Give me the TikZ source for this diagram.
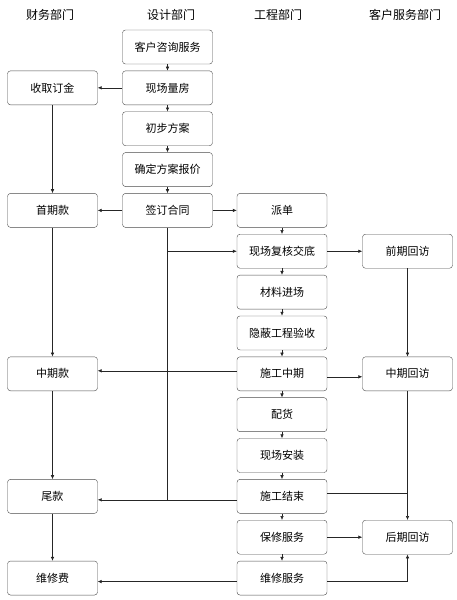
\documentclass[tikz,border=0pt]{standalone}
\usepackage{fontspec}
\setmainfont{Noto Sans CJK SC}
\usetikzlibrary{arrows.meta}

\begin{document}
\begin{tikzpicture}[x=1pt,y=-1pt,
  box/.style={draw=black!70,rounded corners=3pt,minimum width=90pt,minimum height=34pt,inner sep=0pt,font=\fontsize{11}{13}\selectfont},
  head/.style={font=\fontsize{12}{14}\selectfont},
  flow/.style={draw=black!85,line width=0.6pt,-{Latex[length=4pt,width=3.6pt]}},
  link/.style={draw=black!85,line width=0.6pt}]
  \useasboundingbox (0,0) rectangle (457,600);
  % headers
  \node[head] (hcw) at (50,15) {财务部门};
  \node[head] (hsj) at (171,15) {设计部门};
  \node[head] (hgc) at (278,15) {工程部门};
  \node[head] (hkf) at (405,15) {客户服务部门};
  % design
  \node[box] (zx) at (167.5,47) {客户咨询服务};
  \node[box] (lf) at (167.5,87.85) {现场量房};
  \node[box] (cb) at (167.5,128.7) {初步方案};
  \node[box] (bj) at (167.5,169.55) {确定方案报价};
  \node[box] (ht) at (167.5,210.4) {签订合同};
  % finance
  \node[box] (dj) at (52.5,87.85) {收取订金};
  \node[box] (sq) at (52.5,210.4) {首期款};
  \node[box] (zk) at (52.5,373.8) {中期款};
  \node[box] (wk) at (52.5,496.35) {尾款};
  \node[box] (wf) at (52.5,578.05) {维修费};
  % engineering
  \node[box] (pd) at (282,210.4) {派单};
  \node[box] (fh) at (282,251.25) {现场复核交底};
  \node[box] (cl) at (282,292.1) {材料进场};
  \node[box] (yb) at (282,332.95) {隐蔽工程验收};
  \node[box] (zq) at (282,373.8) {施工中期};
  \node[box] (ph) at (282,414.65) {配货};
  \node[box] (az) at (282,455.5) {现场安装};
  \node[box] (js) at (282,496.35) {施工结束};
  \node[box] (bx) at (282,537.2) {保修服务};
  \node[box] (wx) at (282,578.05) {维修服务};
  % customer service
  \node[box] (qq) at (407.5,251.25) {前期回访};
  \node[box] (zh) at (407.5,373.8) {中期回访};
  \node[box] (hh) at (407.5,537.2) {后期回访};

  \draw[flow] (zx) -- (lf);
  \draw[flow] (lf) -- (cb);
  \draw[flow] (cb) -- (bj);
  \draw[flow] (bj) -- (ht);
  \draw[flow] (lf) -- (dj);
  \draw[flow] (dj) -- (sq);
  \draw[flow] (ht) -- (sq);
  \draw[flow] (ht) -- (pd);
  \draw[flow] (sq) -- (zk);
  \draw[flow] (zk) -- (wk);
  \draw[flow] (wk) -- (wf);
  \draw[flow] (pd) -- (fh);
  \draw[flow] (fh) -- (cl);
  \draw[flow] (cl) -- (yb);
  \draw[flow] (yb) -- (zq);
  \draw[flow] (zq) -- (ph);
  \draw[flow] (ph) -- (az);
  \draw[flow] (az) -- (js);
  \draw[flow] (js) -- (bx);
  \draw[flow] (bx) -- (wx);
  \draw[flow] (fh) -- (qq);
  \draw[flow] (qq) -- (zh);
  \draw[flow] (zh) -- (hh);
  % contract line down to the final payment
  \draw[link] (ht.south) -- (ht.south |- 0,500);
  \draw[flow] (ht.south |- fh.west) -- (fh.west);
  \draw[flow] ([yshift=3pt]zq.west) -- ([yshift=3pt]zq.west -| zk.east);
  \draw[flow] ([yshift=-3pt]zq.east) -- ([yshift=-3pt]zq.east -| zh.west);
  \draw[flow] ([yshift=-3.5pt]js.west) -- ([yshift=-3.5pt]js.west -| wk.east);
  \draw[link] ([yshift=3.5pt]js.east) -- ([yshift=3.5pt]js.east -| hh.north);
  \draw[flow] (bx) -- (hh);
  \draw[flow] ([yshift=-3.5pt]wx.west) -- ([yshift=-3.5pt]wx.west -| wf.east);
  \draw[flow] ([yshift=-3.5pt]wx.east) -| (hh.south);
\end{tikzpicture}
\end{document}
